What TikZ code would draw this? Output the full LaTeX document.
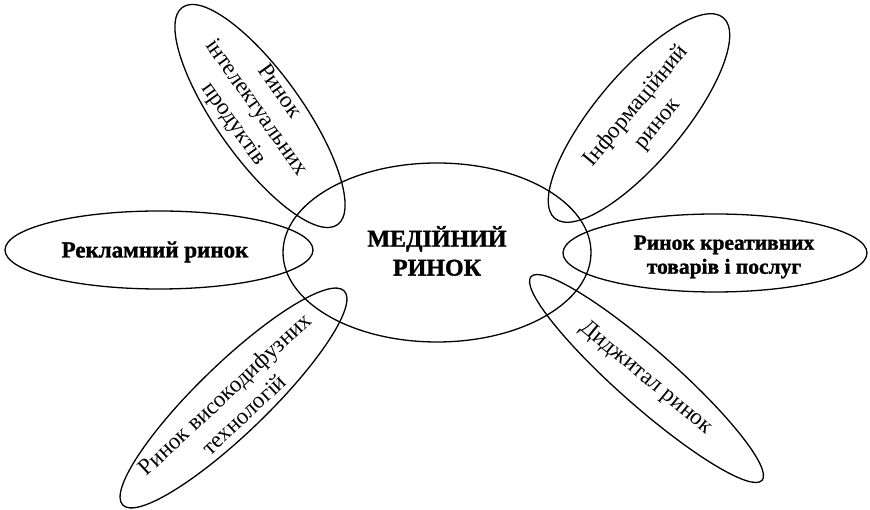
\documentclass[tikz,border=0pt]{standalone}
\usepackage{fontspec}
\setmainfont{Liberation Serif}
\newfontface\heavyserif{Liberation Serif Bold}[FakeBold=1.3]
\usetikzlibrary{shapes.geometric}
\begin{document}
\begin{tikzpicture}[x=1pt,y=1pt,
  oval/.style={draw, line width=1.3pt, ellipse, inner sep=0pt},
  boldlabel/.style 2 args={align=center, inner sep=0pt, font=\fontsize{#1}{#2}\selectfont\heavyserif},
  plainlabel/.style={align=center, inner sep=0pt, font=\fontsize{23}{28}\selectfont}
]
\useasboundingbox (0,0) rectangle (870,510);

% central market
\node[oval, minimum width=308pt, minimum height=179pt] (core) at (437,257.5) {};
\node[boldlabel={24}{29}] (coretext) at (437,259) {МЕДІЙНИЙ\\РИНОК};

% horizontal petals
\node[oval, minimum width=308pt, minimum height=78pt] (ads) at (159,260) {};
\node[boldlabel={23}{27}] (adstext) at (155,258) {Рекламний ринок};

\node[oval, minimum width=304pt, minimum height=78pt] (creative) at (715,257) {};
\node[boldlabel={21.5}{24}] (creativetext) at (724,253) {Ринок креативних\\товарів і послуг};

% slanted petals
\node[oval, minimum width=267pt, minimum height=86pt, rotate=-54.5] (intel) at (260,394) {};
\node[plainlabel, rotate=-54.5] (inteltext) at (256,402) {Ринок\\інтелектуальних\\продуктів};

\node[oval, minimum width=262pt, minimum height=88pt, rotate=50] (info) at (639,392) {};
\node[plainlabel, rotate=50] (infotext) at (647,395) {Інформаційний\\ринок};

\node[oval, minimum width=308pt, minimum height=70pt, rotate=44] (tech) at (233.5,112) {};
\node[plainlabel, rotate=43] (techtext) at (234,106) {Ринок високодифузних\\технологій};

\node[oval, minimum width=308pt, minimum height=56pt, rotate=-41.4] (digital) at (646.5,131.5) {};
\node[plainlabel, rotate=-39.5] (digitaltext) at (646,132) {Диджитал ринок};
\end{tikzpicture}
\end{document}
